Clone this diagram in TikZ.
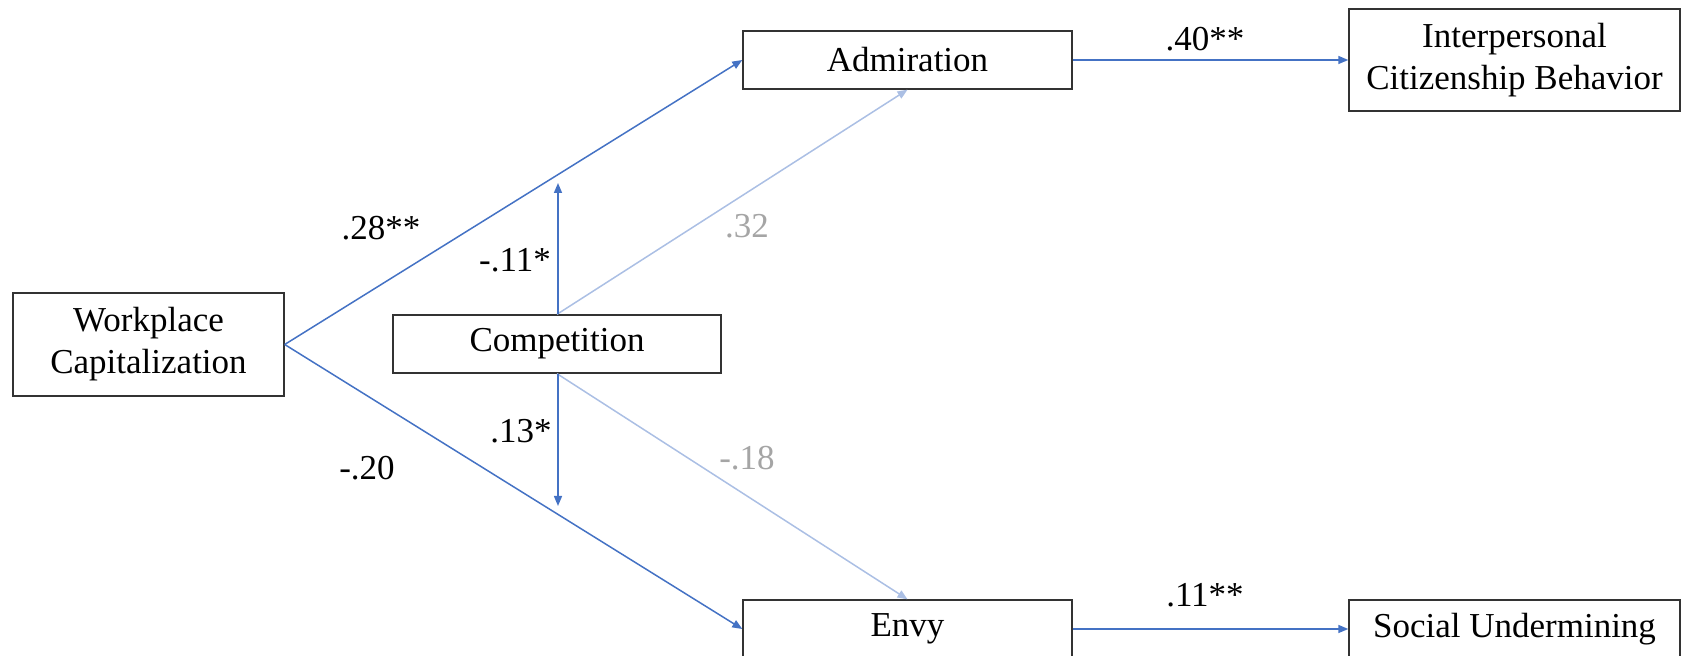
\documentclass[tikz,border=0pt]{standalone}
\usepackage{fontspec}
\setmainfont{Liberation Serif}
\usepackage{tikz}
\usetikzlibrary{arrows.meta,positioning,calc}

\definecolor{pathblue}{RGB}{68,114,196}
\definecolor{faintblue}{RGB}{171,191,228}
\definecolor{faintgray}{RGB}{165,165,165}

\begin{document}
\begin{tikzpicture}[
    x=0.5pt, y=-0.5pt,
    font=\fontsize{17.5}{21}\selectfont,
    var/.style={rectangle, draw=black!80, line width=0.7pt, fill=white,
      minimum height=29pt, align=center, inner sep=0pt},
    arr/.style={-{Triangle[length=5pt, width=4pt]}, line width=0.75pt, draw=pathblue},
    faint/.style={arr, draw=faintblue},
    coef/.style={inner sep=1pt},
    faintcoef/.style={coef, text=faintgray}
  ]
    \useasboundingbox (0,0) rectangle (1681,656);

    \node[var, minimum width=135.5pt, minimum height=51.5pt] (wc) at (148.5,344.5) {Workplace\\Capitalization};
    \node[var, minimum width=164pt] (comp) at (557,344) {Competition};
    \node[var, minimum width=164.5pt] (adm) at (907.5,60) {Admiration};
    \node[var, minimum width=164.5pt] (envy) at (907.5,629) {Envy};
    \node[var, minimum width=165.5pt, minimum height=51pt] (icb) at (1514.5,60) {Interpersonal\\Citizenship Behavior};
    \node[var, minimum width=165.5pt] (su) at (1514.5,629) {Social Undermining};

    \coordinate (modtop) at (558,183);
    \coordinate (modbot) at (558,506);

    % paths from capitalization
    \draw[arr] (wc.east) -- (adm.west);
    \draw[arr] (wc.east) -- (envy.west);

    % competition as moderator
    \draw[faint] (comp.north) -- (adm.south);
    \draw[faint] (comp.south) -- (envy.north);
    \draw[arr] (comp.north -| modtop) -- (modtop);
    \draw[arr] (comp.south -| modbot) -- (modbot);

    % outcomes
    \draw[arr] (adm.east) -- (icb.west);
    \draw[arr] (envy.east) -- (su.west);

    \node[coef] (b1) at (381,228) {.28**};
    \node[coef] (b2) at (367,468) {-.20};
    \node[coef] (b3) at (515,260) {-.11*};
    \node[coef] (b4) at (521,431) {.13*};
    \node[faintcoef] (b5) at (747,226) {.32};
    \node[faintcoef] (b6) at (747,458) {-.18};
    \node[coef] (b7) at (1205,39) {.40**};
    \node[coef] (b8) at (1205,595) {.11**};
  \end{tikzpicture}
\end{document}
